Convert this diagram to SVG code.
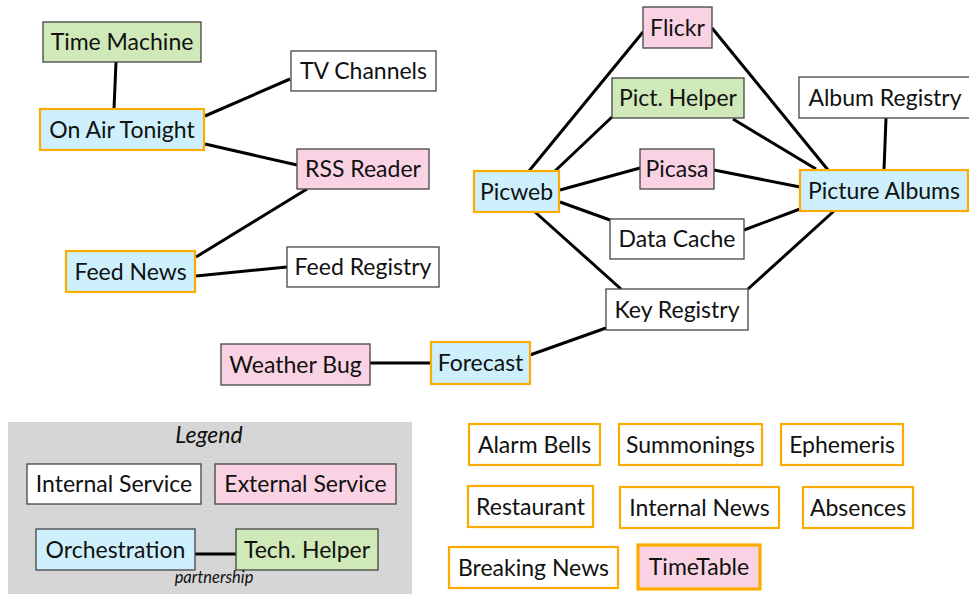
<svg xmlns="http://www.w3.org/2000/svg" width="969" height="594" viewBox="0 0 969 594">
<style>
  .int { fill: #ffffff; stroke: #444444; stroke-width: 1.3; }
  .ext { fill: #f9d3e3; stroke: #444444; stroke-width: 1.3; }
  .tech { fill: #d0e9b9; stroke: #444444; stroke-width: 1.3; }
  .orch { fill: #cdf0fc; stroke: #fcac00; stroke-width: 2.2; }
  .app { fill: #ffffff; stroke: #fcac00; stroke-width: 2.2; }
  .appx { fill: #f9d3e3; stroke: #fcac00; stroke-width: 3.2; }
  text { font-family: Lato, "Open Sans", sans-serif; font-size: 23px; fill: #111111; text-anchor: middle; }
  .it { font-style: italic; }
  .conn line { stroke: #000000; stroke-width: 3; stroke-linecap: butt; }
</style>
<rect x="8" y="422" width="404" height="172" fill="#d6d6d6"/>
<g class="conn">
  <line x1="116" y1="62" x2="114" y2="109"/>
  <line x1="205" y1="116" x2="290" y2="79"/>
  <line x1="205" y1="144" x2="297" y2="165"/>
  <line x1="307" y1="189" x2="196" y2="257"/>
  <line x1="196" y1="276" x2="287" y2="267"/>
  <line x1="529" y1="171" x2="643" y2="32"/>
  <line x1="555" y1="171" x2="612" y2="117"/>
  <line x1="560" y1="190" x2="640" y2="168"/>
  <line x1="560" y1="202" x2="610" y2="220"/>
  <line x1="535" y1="212" x2="621" y2="289"/>
  <line x1="712" y1="28" x2="828" y2="170"/>
  <line x1="733" y1="119" x2="816" y2="169"/>
  <line x1="714" y1="170" x2="800" y2="187"/>
  <line x1="744" y1="230" x2="800" y2="209"/>
  <line x1="748" y1="289" x2="834" y2="211"/>
  <line x1="886" y1="118" x2="884" y2="170"/>
  <line x1="606" y1="328" x2="530" y2="355"/>
  <line x1="370" y1="363" x2="430" y2="363"/>
  <line x1="195" y1="554" x2="236" y2="554"/>
</g>
<g id="time-machine"><rect class="tech" x="43" y="22" width="158" height="40"/><text x="122" y="50">Time Machine</text></g>
<g id="tv-channels"><rect class="int" x="291" y="51" width="145" height="40"/><text x="363.5" y="79">TV Channels</text></g>
<g id="on-air-tonight"><rect class="orch" x="40" y="109" width="164" height="41"/><text x="122" y="138">On Air Tonight</text></g>
<g id="rss-reader"><rect class="ext" x="297" y="149" width="132" height="40"/><text x="363" y="177">RSS Reader</text></g>
<g id="feed-news"><rect class="orch" x="66" y="251" width="129" height="41"/><text x="130.5" y="280">Feed News</text></g>
<g id="feed-registry"><rect class="int" x="287" y="247" width="152" height="40"/><text x="363" y="275">Feed Registry</text></g>
<g id="flickr"><rect class="ext" x="643" y="7" width="69" height="41"/><text x="677.5" y="36">Flickr</text></g>
<g id="pict-helper"><rect class="tech" x="612" y="78" width="132" height="40"/><text x="678" y="106">Pict. Helper</text></g>
<g id="album-registry"><rect class="int" x="799" y="77" width="172" height="41"/><text x="885" y="106">Album Registry</text></g>
<g id="picasa"><rect class="ext" x="640" y="149" width="74" height="40"/><text x="677" y="177">Picasa</text></g>
<g id="picweb"><rect class="orch" x="474" y="171" width="85" height="41"/><text x="516.5" y="200">Picweb</text></g>
<g id="picture-albums"><rect class="orch" x="800" y="170" width="168" height="41"/><text x="884" y="199">Picture Albums</text></g>
<g id="data-cache"><rect class="int" x="610" y="219" width="134" height="40"/><text x="677" y="247">Data Cache</text></g>
<g id="key-registry"><rect class="int" x="606" y="289" width="142" height="41"/><text x="677" y="318">Key Registry</text></g>
<g id="weather-bug"><rect class="ext" x="221" y="344" width="149" height="41"/><text x="295.5" y="373">Weather Bug</text></g>
<g id="forecast"><rect class="orch" x="431" y="342" width="99" height="42"/><text x="480.5" y="371">Forecast</text></g>
<g id="legend">
  <text class="it" x="209" y="443" font-size="21">Legend</text>
  <g id="legend-internal"><rect class="int" x="27" y="464" width="174" height="40"/><text x="114" y="492">Internal Service</text></g>
  <g id="legend-external"><rect class="ext" x="215" y="464" width="181" height="40"/><text x="305.5" y="492">External Service</text></g>
  <g id="legend-orchestration"><rect class="int" x="36" y="529" width="159" height="41" style="fill:#cdf0fc"/><text x="115.5" y="558">Orchestration</text></g>
  <g id="legend-tech"><rect class="tech" x="236" y="529" width="142" height="41"/><text x="307" y="558">Tech. Helper</text></g>
  <text class="it" x="214" y="583" style="font-size:16.5px">partnership</text>
</g>
<g id="alarm-bells"><rect class="app" x="469" y="424" width="131" height="41"/><text x="534.5" y="453">Alarm Bells</text></g>
<g id="summonings"><rect class="app" x="619" y="424" width="143" height="41"/><text x="690.5" y="453">Summonings</text></g>
<g id="ephemeris"><rect class="app" x="781" y="424" width="122" height="41"/><text x="842" y="453">Ephemeris</text></g>
<g id="restaurant"><rect class="app" x="468" y="486" width="125" height="41"/><text x="530.5" y="515">Restaurant</text></g>
<g id="internal-news"><rect class="app" x="620" y="487" width="159" height="41"/><text x="699.5" y="516">Internal News</text></g>
<g id="absences"><rect class="app" x="803" y="487" width="110" height="41"/><text x="858" y="516">Absences</text></g>
<g id="breaking-news"><rect class="app" x="449" y="547" width="169" height="41"/><text x="533.5" y="576">Breaking News</text></g>
<g id="timetable"><rect class="appx" x="638" y="545" width="122" height="44"/><text x="699" y="575">TimeTable</text></g>
</svg>
